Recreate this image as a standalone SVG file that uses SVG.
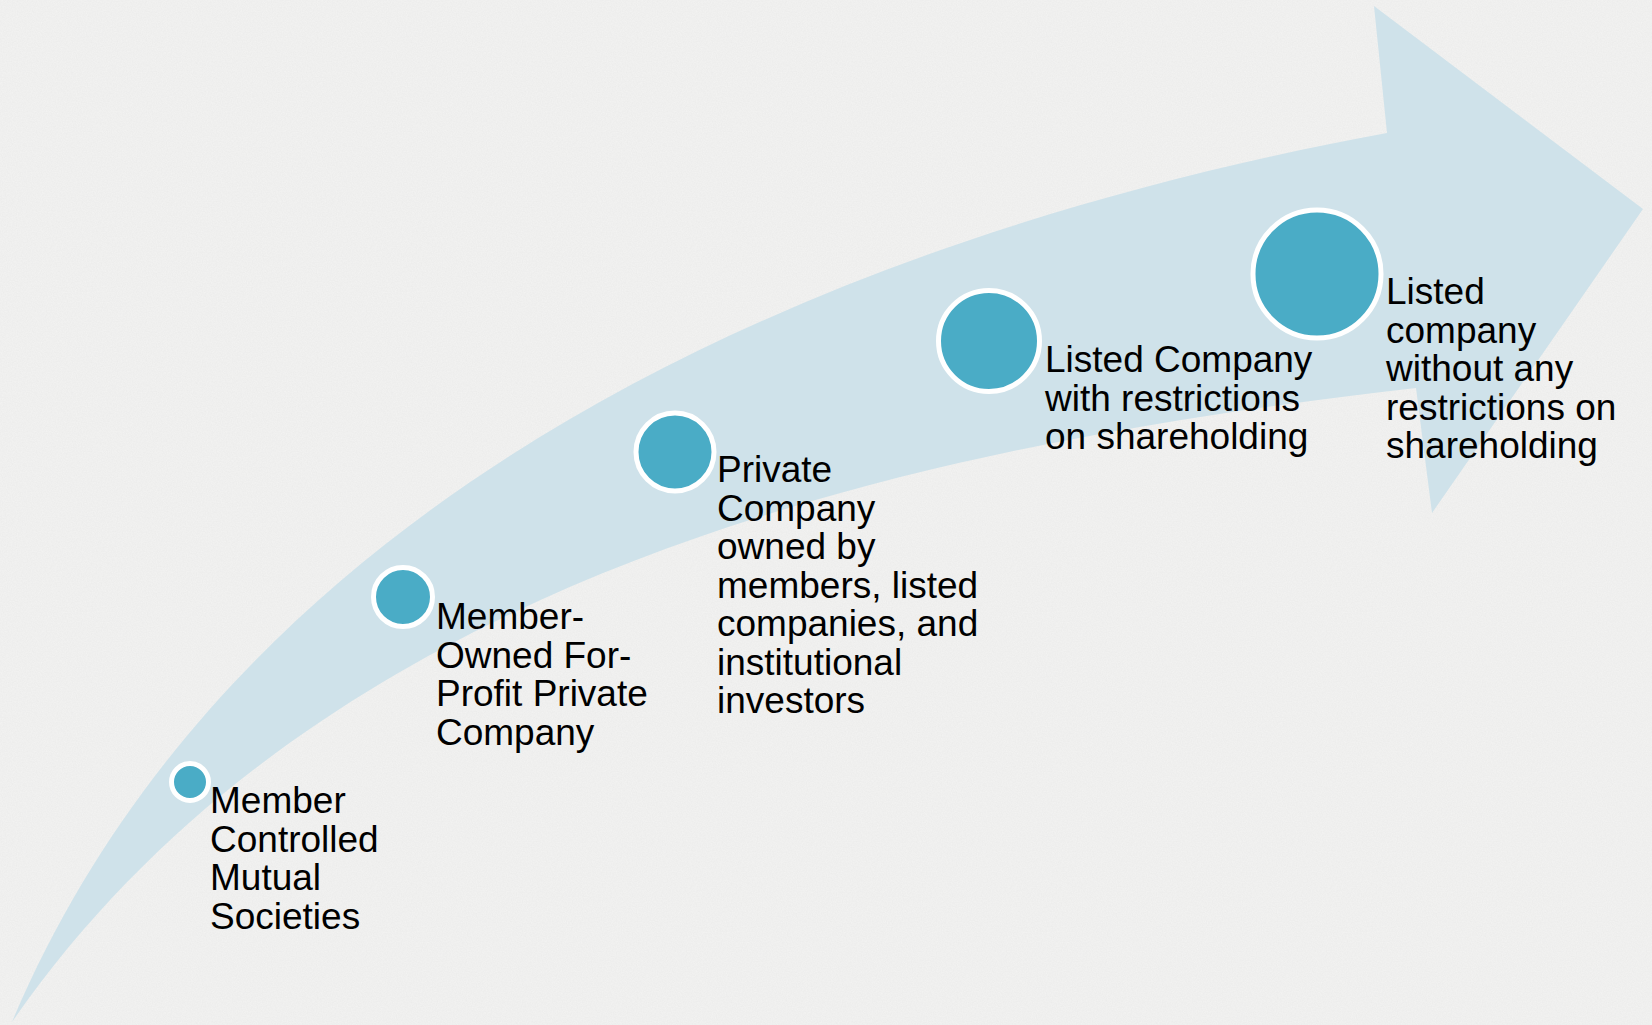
<svg xmlns="http://www.w3.org/2000/svg" width="1652" height="1025" viewBox="0 0 1652 1025">
  <defs>
    <filter id="paper" x="0" y="0" width="100%" height="100%">
      <feTurbulence type="fractalNoise" baseFrequency="0.8" numOctaves="3" seed="3" result="n"/>
      <feColorMatrix in="n" type="matrix" values="0 0 0 0 0.5  0 0 0 0 0.5  0 0 0 0 0.5  0 0 0 0.45 0"/>
    </filter>
    <style>
      .lbl { font-family: "Liberation Sans", Arial, sans-serif; font-size: 37px; fill: #000000; }
      .dot { fill: #4aacc6; stroke: #ffffff; stroke-width: 5; }
      .band { fill: #cfe2ea; }
    </style>
  </defs>
  <rect x="0" y="0" width="1652" height="1025" fill="#f3f3f2"/>
  <rect x="0" y="0" width="1652" height="1025" filter="url(#paper)" opacity="0.3"/>

  <g id="connectors">
    <path id="arrow" class="band" d="M12,1022 C240.6,479.9 848.3,232.2 1387,133 L1374,6 L1643,209 L1432,513 L1416,388 C905.6,446 322.1,574.7 12,1022 Z"/>
  </g>

  <g id="node1">
    <circle class="dot" cx="190" cy="782" r="18.5"/>
    <text class="lbl"><tspan x="210" y="813">Member</tspan><tspan x="210" y="851.7">Controlled</tspan><tspan x="210" y="890.4">Mutual</tspan><tspan x="210" y="929.1">Societies</tspan></text>
  </g>
  <g id="node2">
    <circle class="dot" cx="403" cy="597" r="29.5"/>
    <text class="lbl"><tspan x="436" y="629">Member-</tspan><tspan x="436" y="667.5">Owned For-</tspan><tspan x="436" y="706">Profit Private</tspan><tspan x="436" y="744.5">Company</tspan></text>
  </g>
  <g id="node3">
    <circle class="dot" cx="675" cy="452" r="39"/>
    <text class="lbl"><tspan x="717" y="482">Private</tspan><tspan x="717" y="520.5">Company</tspan><tspan x="717" y="559">owned by</tspan><tspan x="717" y="597.5">members, listed</tspan><tspan x="717" y="636">companies, and</tspan><tspan x="717" y="674.5">institutional</tspan><tspan x="717" y="713">investors</tspan></text>
  </g>
  <g id="node4">
    <circle class="dot" cx="989" cy="341" r="50.5"/>
    <text class="lbl"><tspan x="1045" y="372">Listed Company</tspan><tspan x="1045" y="410.5">with restrictions</tspan><tspan x="1045" y="449">on shareholding</tspan></text>
  </g>
  <g id="node5">
    <circle class="dot" cx="1317" cy="274" r="64"/>
    <text class="lbl"><tspan x="1386" y="304">Listed</tspan><tspan x="1386" y="342.5">company</tspan><tspan x="1386" y="381">without any</tspan><tspan x="1386" y="419.5">restrictions on</tspan><tspan x="1386" y="458">shareholding</tspan></text>
  </g>
</svg>
